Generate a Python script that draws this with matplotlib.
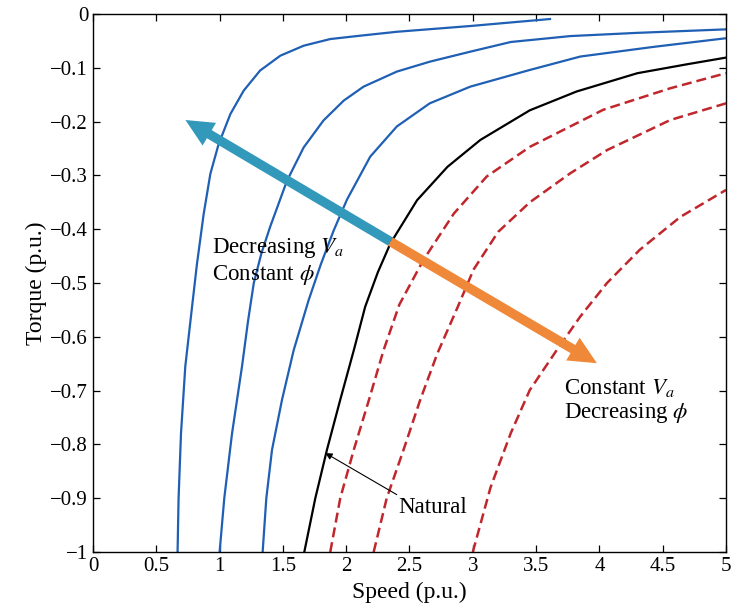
import matplotlib
matplotlib.use('Agg')
import matplotlib.pyplot as plt

plt.rcParams['font.family'] = ['Liberation Serif', 'DejaVu Serif']
plt.rcParams['mathtext.fontset'] = 'stix'
plt.rcParams['font.size'] = 15

# torque-speed curves (speed, torque in p.u.)
blue1_x = [0.668, 0.676, 0.695, 0.729, 0.782, 0.821, 0.874, 0.927, 0.992, 1.085, 1.19, 1.32, 1.48, 1.664, 1.874, 2.11, 2.40, 2.98, 3.61]
blue1_y = [-1, -0.90, -0.78, -0.655, -0.545, -0.465, -0.372, -0.297, -0.242, -0.186, -0.1425, -0.105, -0.0774, -0.0589, -0.0465, -0.0403, -0.033, -0.0223, -0.0093]

blue2_x = [1.0, 1.037, 1.098, 1.177, 1.225, 1.27, 1.33, 1.40, 1.532, 1.664, 1.82, 1.98, 2.137, 2.40, 2.66, 2.98, 3.30, 3.77, 4.30, 5.0]
blue2_y = [-1, -0.90, -0.78, -0.655, -0.57, -0.50, -0.445, -0.395, -0.31, -0.248, -0.198, -0.161, -0.135, -0.107, -0.0886, -0.070, -0.052, -0.041, -0.035, -0.0285]

blue3_x = [1.34, 1.369, 1.414, 1.493, 1.585, 1.703, 1.80, 1.90, 2.006, 2.19, 2.40, 2.66, 2.98, 3.45, 3.85, 4.43, 5.0]
blue3_y = [-1, -0.90, -0.81, -0.717, -0.625, -0.532, -0.465, -0.403, -0.345, -0.265, -0.209, -0.166, -0.135, -0.104, -0.079, -0.061, -0.045]

natural_x = [1.669, 1.756, 1.848, 1.953, 2.06, 2.15, 2.25, 2.35, 2.56, 2.80, 3.06, 3.45, 3.82, 4.30, 4.69, 5.0]
natural_y = [-1, -0.90, -0.81, -0.717, -0.625, -0.544, -0.48, -0.426, -0.346, -0.284, -0.234, -0.179, -0.144, -0.110, -0.0935, -0.081]

red1_x = [1.874, 1.953, 2.06, 2.18, 2.295, 2.42, 2.61, 2.85, 3.11, 3.45, 4.03, 4.56, 5.0]
red1_y = [-1, -0.90, -0.81, -0.717, -0.625, -0.54, -0.457, -0.371, -0.302, -0.247, -0.178, -0.138, -0.110]

red2_x = [2.217, 2.32, 2.453, 2.585, 2.72, 2.88, 3.006, 3.20, 3.45, 3.77, 4.06, 4.56, 5.0]
red2_y = [-1, -0.90, -0.81, -0.717, -0.631, -0.545, -0.475, -0.405, -0.350, -0.296, -0.253, -0.197, -0.166]

red3_x = [3.0, 3.14, 3.30, 3.45, 3.665, 3.85, 4.06, 4.32, 4.64, 5.0]
red3_y = [-1, -0.88, -0.779, -0.699, -0.624, -0.562, -0.5, -0.438, -0.377, -0.327]

xticks = [0, 0.5, 1, 1.5, 2, 2.5, 3, 3.5, 4, 4.5, 5]
xticklabels = ['0', '0.5', '1', '1.5', '2', '2.5', '3', '3.5', '4', '4.5', '5']
yticks = [0, -0.1, -0.2, -0.3, -0.4, -0.5, -0.6, -0.7, -0.8, -0.9, -1]
yticklabels = ['0', '\u22120.1', '\u22120.2', '\u22120.3', '\u22120.4', '\u22120.5',
               '\u22120.6', '\u22120.7', '\u22120.8', '\u22120.9', '\u22121']

junction = (2.35, -0.423)
va_tip = (0.73, -0.197)
phi_tip = (3.98, -0.649)

blue = '#1f5fb4'
red = '#c0272d'

fig = plt.figure(figsize=(7.34, 6.15), dpi=100)
ax = fig.add_axes([0.1267, 0.1024, 0.8624, 0.8748])

for xs, ys in [(blue1_x, blue1_y), (blue2_x, blue2_y), (blue3_x, blue3_y)]:
    ax.plot(xs, ys, color=blue, lw=1.6, solid_joinstyle='round')
ax.plot(natural_x, natural_y, color='black', lw=1.6, solid_joinstyle='round')
for xs, ys in [(red1_x, red1_y), (red2_x, red2_y), (red3_x, red3_y)]:
    ax.plot(xs, ys, color=red, lw=1.8, linestyle=(0, (4, 2)))

arrow_style = 'simple,head_length=1.0,head_width=0.95,tail_width=0.34'
ax.annotate('', xy=va_tip, xytext=junction,
            arrowprops=dict(arrowstyle=arrow_style, color='#3399bb', lw=0,
                            shrinkA=0, shrinkB=0, mutation_scale=20), zorder=5)
ax.annotate('', xy=phi_tip, xytext=junction,
            arrowprops=dict(arrowstyle=arrow_style, color='#f0883a', lw=0,
                            shrinkA=0, shrinkB=0, mutation_scale=20), zorder=5)

ax.text(0.94, -0.435, r'Decreasing $V_a$', va='center', ha='left', fontsize=16.5)
ax.text(0.94, -0.485, r'Constant $\phi$', va='center', ha='left', fontsize=16.5)
ax.text(3.72, -0.695, r'Constant $V_a$', va='center', ha='left', fontsize=16.5)
ax.text(3.72, -0.742, r'Decreasing $\phi$', va='center', ha='left', fontsize=16.5)

ax.annotate('Natural', xy=(1.835, -0.816), xytext=(2.41, -0.918),
            va='center', ha='left', fontsize=16.5,
            arrowprops=dict(arrowstyle='-|>', color='black', lw=0.8,
                            shrinkA=0, shrinkB=0, mutation_scale=10,
                            relpos=(0.05, 1.0)))

ax.set_xlim(0, 5)
ax.set_ylim(-1, 0)
ax.set_xticks(xticks)
ax.set_xticklabels(xticklabels)
ax.set_yticks(yticks)
ax.set_yticklabels(yticklabels)
ax.tick_params(direction='in', top=True, right=True, length=5, width=0.9, labelsize=15)
for s in ax.spines.values():
    s.set_linewidth(1.0)

ax.set_xlabel('Speed (p.u.)', labelpad=4, fontsize=17)
ax.set_ylabel('Torque (p.u.)', labelpad=2, fontsize=17)

fig.savefig('out.png', dpi=100)
